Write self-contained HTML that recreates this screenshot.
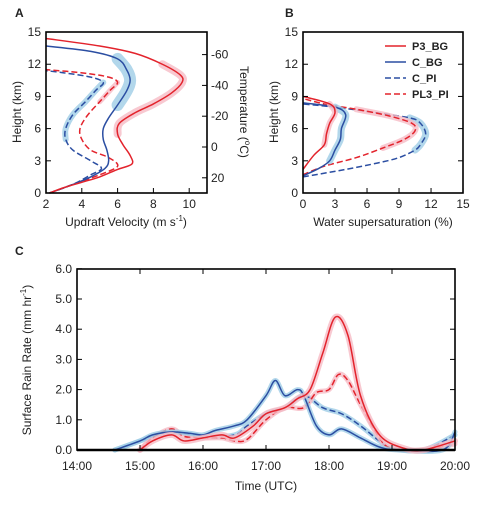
<!DOCTYPE html>
<html><head><meta charset="utf-8"><style>
body{margin:0;background:#fff}
svg text{font-family:"Liberation Sans",sans-serif;fill:#222}
</style></head><body>
<svg id="s" width="489" height="500" xmlns="http://www.w3.org/2000/svg"></svg>
<script>
// Panel A data: [velocity, height]
const aP3BG=[[2.2,0],[3,0.5],[4,1],[5,1.5],[6,2.2],[6.8,2.7],[6.7,3.5],[6.3,4.5],[6,5.5],[6.1,6.5],[7,7.5],[8,8.3],[9,9.3],[9.6,10.3],[9.5,11],[8.5,12],[7,13],[5,13.7],[2,14.4]];
const aCBG=[[2.2,0],[3.5,0.8],[4.5,1.5],[5.3,2.3],[5.5,3],[5.4,4],[5.2,5],[5.2,6],[5.5,7],[6,8.2],[6.5,9.5],[6.7,10.5],[6.5,11.5],[6,12.5],[4.5,13.2],[2,13.7]];
const aCPI=[[2.2,0],[3.5,0.8],[4.5,1.7],[5.1,2.3],[4.5,3],[3.5,4],[3.1,5],[3.1,6],[3.5,7.3],[4.2,8.5],[4.8,9.6],[5.2,10.3],[4.5,10.8],[3,11.2],[2,11.4]];
const aPL3PI=[[2.2,0],[3.5,0.8],[5,1.7],[6,2.5],[5.5,3.3],[4.5,4],[4,5],[3.9,6],[4.3,7.2],[5,8.5],[5.6,9.6],[6,10.3],[5.5,10.8],[4,11.2],[2,11.5]];
// Panel B data: [supersaturation %, height]
const bP3BG=[[0,2.2],[1,3.5],[2,4.5],[2.2,5.5],[2.5,6.5],[3,7.5],[2.5,8.3],[0,9]];
const bCBG=[[0,1.6],[1.5,2.3],[2.5,3],[3,4],[3.5,5],[3.6,6],[4,7.3],[3,8],[0,8.4]];
const bCPI=[[0,1.5],[4,2.2],[7,2.8],[9,3.3],[10.5,4],[11,4.5],[11.5,5.5],[11,6.5],[10,7],[6,7.6],[3,8],[0,8.3]];
const bPL3PI=[[0,1.7],[2,2.5],[5,3.3],[7.5,4.2],[9.5,5],[10.5,5.8],[10.2,6.5],[8,7.2],[5,7.8],[2,8.3],[0,8.8]];
// Panel C data: [hours, rain rate]
const cCBG=[[14.6,0],[15,0.3],[15.2,0.5],[15.5,0.6],[15.8,0.55],[16,0.5],[16.2,0.65],[16.5,0.8],[16.7,1.0],[17,1.8],[17.15,2.3],[17.3,1.8],[17.5,2.0],[17.6,1.8],[17.8,0.8],[18,0.5],[18.2,0.7],[18.5,0.4],[18.8,0.1],[19.1,0],[19.8,0],[20,0.6]];
const cCPI=[[14.6,0],[15,0.3],[15.2,0.45],[15.5,0.6],[16,0.45],[16.5,0.5],[16.7,0.8],[17,1.2],[17.3,1.4],[17.6,1.8],[17.9,1.4],[18.2,1.2],[18.5,0.8],[18.8,0.3],[19,0.05],[19.5,0],[20,0.5]];
const cP3BG=[[15,0],[15.2,0.3],[15.5,0.5],[15.7,0.3],[16,0.4],[16.3,0.5],[16.5,0.4],[16.8,0.8],[17,1.2],[17.3,1.4],[17.5,1.7],[17.7,2.0],[17.9,3.2],[18.1,4.4],[18.3,3.8],[18.5,1.8],[18.8,0.5],[19.2,0.05],[19.5,0],[20,0.3]];
const cPL3PI=[[15,0],[15.2,0.4],[15.5,0.7],[15.7,0.45],[16,0.4],[16.3,0.4],[16.5,0.3],[16.7,0.35],[17,1.0],[17.3,1.4],[17.6,1.4],[17.8,1.9],[18,2.0],[18.15,2.5],[18.3,2.3],[18.5,1.5],[18.8,0.4],[19,0.05],[19.5,0],[20,0.2]];
const aXTicks=[2,4,6,8,10];
const hTicks=[0,3,6,9,12,15];
const tempTicks=[-60,-40,-20,0,20];
const bXTicks=[0,3,6,9,12,15];
const cYTicks=[0,1,2,3,4,5,6];
const cXTicks=["14:00","15:00","16:00","17:00","18:00","19:00","20:00"];
const legendNames=["P3_BG","C_BG","C_PI","PL3_PI"];

const RED="#e3232c",BLUE="#2b4ea2",LB="#9fcde6",PK="#f6bcc6";
const S=document.getElementById('s');const NS="http://www.w3.org/2000/svg";
function el(t,a,p){const e=document.createElementNS(NS,t);for(const k in a)e.setAttribute(k,a[k]);(p||S).appendChild(e);return e;}
function txt(x,y,s,o,p){const e=el('text',Object.assign({x:x,y:y},o||{}),p);e.textContent=s;return e;}
function path(pts){let d="M"+pts[0][0]+","+pts[0][1];for(let i=0;i<pts.length-1;i++){const p0=pts[Math.max(i-1,0)],p1=pts[i],p2=pts[i+1],p3=pts[Math.min(i+2,pts.length-1)];d+=" C"+(p1[0]+(p2[0]-p0[0])/6)+","+(p1[1]+(p2[1]-p0[1])/6)+" "+(p2[0]-(p3[0]-p1[0])/6)+","+(p2[1]-(p3[1]-p1[1])/6)+" "+p2[0]+","+p2[1];}return d;}
function series(data,fx,fy,col,dash,band,bw,name,g,lo,hi){
  const pts=data.map(d=>[fx(d[0]),fy(d[1])]);
  if(band){const bd=(lo===undefined)?data:data.filter(d=>d[1]>=lo&&d[1]<=hi);
    if(bd.length>1){const b=el('path',{d:path(bd.map(d=>[fx(d[0]),fy(d[1])])),fill:'none',stroke:band,'stroke-width':bw,'stroke-linejoin':'round','stroke-linecap':'round',opacity:0.8},g);
    }}
  const l=el('path',{d:path(pts),fill:'none',stroke:col,'stroke-width':1.5,'stroke-dasharray':dash?'6,3':'none'},g);
  
}
// Panel A
const ax=v=>46+(v-2)*17.9, hy=h=>193-h*10.73, ty=t=>147+t*1.54;
const gA=el('g',{});
series(aCPI,ax,hy,BLUE,true,LB,6,'a-c-pi',gA,5,10.5);
series(aPL3PI,ax,hy,RED,true,PK,5,'a-pl3-pi',gA,8,10.5);
series(aCBG,ax,hy,BLUE,false,LB,12,'a-c-bg',gA,8,12.6);
series(aP3BG,ax,hy,RED,false,PK,8,'a-p3-bg',gA,5.5,12);
el('rect',{x:46,y:32,width:161,height:161,fill:'none',stroke:'#000','stroke-width':1.6},gA);
aXTicks.forEach(v=>{el('line',{x1:ax(v),x2:ax(v),y1:193,y2:188,stroke:'#000'},gA);txt(ax(v),208,v,{'font-size':12,'text-anchor':'middle'},gA);});
hTicks.forEach(v=>{el('line',{x1:46,x2:51,y1:hy(v),y2:hy(v),stroke:'#000'},gA);txt(41,hy(v)+4,v,{'font-size':12,'text-anchor':'end'},gA);});
tempTicks.forEach(v=>{el('line',{x1:207,x2:202,y1:ty(v),y2:ty(v),stroke:'#000'},gA);txt(211,ty(v)+4,v,{'font-size':12},gA);});
txt(15,17,'A',{'font-size':12,'font-weight':'bold'});
txt(126,226,'',{'font-size':12,'text-anchor':'middle'}).innerHTML='Updraft Velocity (m s<tspan dy="-5" font-size="8">-1</tspan><tspan dy="5">)</tspan>';
txt(0,0,'Height (km)',{'font-size':12,'text-anchor':'middle',transform:'translate(21,112) rotate(-90)'});
txt(0,0,'',{'font-size':12,'text-anchor':'middle',transform:'translate(240,112) rotate(90)'}).innerHTML='Temperature (<tspan dy="-5" font-size="8">o</tspan><tspan dy="5">C)</tspan>';
// Panel B
const bx=v=>303+v*10.67;
const gB=el('g',{});
series(bCPI,bx,hy,BLUE,true,LB,7,'b-c-pi',gB,3.5,7.3);
series(bPL3PI,bx,hy,RED,true,PK,6,'b-pl3-pi',gB,4,8);
series(bCBG,bx,hy,BLUE,false,LB,7,'b-c-bg',gB,3,8);
series(bP3BG,bx,hy,RED,false,PK,6,'b-p3-bg',gB,4.5,8.3);
el('rect',{x:303,y:32,width:160,height:161,fill:'none',stroke:'#000','stroke-width':1.6},gB);
bXTicks.forEach(v=>{el('line',{x1:bx(v),x2:bx(v),y1:193,y2:188,stroke:'#000'},gB);txt(bx(v),208,v,{'font-size':12,'text-anchor':'middle'},gB);});
hTicks.forEach(v=>{el('line',{x1:303,x2:308,y1:hy(v),y2:hy(v),stroke:'#000'},gB);el('line',{x1:463,x2:458,y1:hy(v),y2:hy(v),stroke:'#000'},gB);txt(298,hy(v)+4,v,{'font-size':12,'text-anchor':'end'},gB);});
txt(285,17,'B',{'font-size':12,'font-weight':'bold'});
txt(383,226,'Water supersaturation (%)',{'font-size':12,'text-anchor':'middle'});
txt(0,0,'Height (km)',{'font-size':12,'text-anchor':'middle',transform:'translate(278,112) rotate(-90)'});
const legCols=[RED,BLUE,BLUE,RED],legDash=[false,false,true,true];
legendNames.forEach((n,i)=>{const y=46+i*16;const g=el('g',{},gB);
 el('line',{x1:385,x2:406,y1:y,y2:y,stroke:legCols[i],'stroke-width':1.6,'stroke-dasharray':legDash[i]?'6,3':'none'},g);
 txt(412,y+4,n,{'font-size':11,'font-weight':'bold'},g);});
// Panel C
const cx=t=>77+(t-14)*63, cy=v=>450-v*30.2;
const gC=el('g',{});
series(cCPI,cx,cy,BLUE,true,LB,5,'c-c-pi',gC);
series(cPL3PI,cx,cy,RED,true,PK,5,'c-pl3-pi',gC);
series(cCBG,cx,cy,BLUE,false,LB,5,'c-c-bg',gC);
series(cP3BG,cx,cy,RED,false,PK,6,'c-p3-bg',gC);
el('rect',{x:77,y:269,width:378,height:181,fill:'none',stroke:'#000','stroke-width':1.6},gC);
el('line',{x1:77,x2:455,y1:450,y2:450,stroke:'#000','stroke-width':2.5},gC);
cXTicks.forEach((s,i)=>{const x=cx(14+i);el('line',{x1:x,x2:x,y1:450,y2:445,stroke:'#000'},gC);el('line',{x1:x,x2:x,y1:269,y2:274,stroke:'#000'},gC);txt(x,470,s,{'font-size':12,'text-anchor':'middle'},gC);});
cYTicks.forEach(v=>{el('line',{x1:77,x2:82,y1:cy(v),y2:cy(v),stroke:'#000'},gC);el('line',{x1:455,x2:450,y1:cy(v),y2:cy(v),stroke:'#000'},gC);txt(72,cy(v)+4,v.toFixed(1),{'font-size':12,'text-anchor':'end'},gC);});
txt(15,255,'C',{'font-size':12,'font-weight':'bold'});
txt(266,490,'Time (UTC)',{'font-size':12,'text-anchor':'middle'});
txt(0,0,'',{'font-size':12,'text-anchor':'middle',transform:'translate(31,360) rotate(-90)'}).innerHTML='Surface Rain Rate (mm hr<tspan dy="-5" font-size="8">-1</tspan><tspan dy="5">)</tspan>';
</script>
</body></html>
